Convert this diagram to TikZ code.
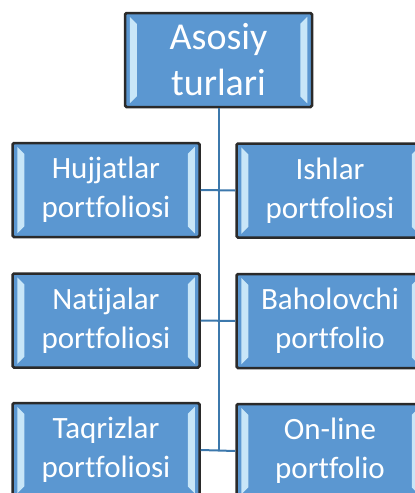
\documentclass[tikz,border=0pt]{standalone}
\usepackage{fontspec}
\setmainfont{Carlito}[Ligatures=NoCommon]
\usetikzlibrary{calc}
\definecolor{boxblue}{HTML}{5B97D1}
\definecolor{bevel}{HTML}{C8E6F8}
\definecolor{linkblue}{HTML}{3C78AC}
\definecolor{rim}{HTML}{2A2A2A}
\begin{document}
\begin{tikzpicture}[x=1pt,y=1pt,
  box/.style={draw=rim,line width=2.5pt,fill=boxblue,text=white,minimum width=187pt,
    minimum height=94pt,align=center,inner sep=0pt,rounded corners=1.5pt,
    font=\fontsize{31}{39}\selectfont},
  link/.style={draw=linkblue,line width=2pt}]
\useasboundingbox (0,0) rectangle (415,-493);
\clip (0,0) rectangle (415,-493);
\node[box,font=\fontsize{38}{46}\selectfont] (top) at (218.5,-60) {Asosiy\\turlari};
\node[box] (hu) at (106,-190)   {Hujjatlar\\portfoliosi};
\node[box] (is) at (330,-190.5) {Ishlar\\portfoliosi};
\node[box] (na) at (106,-320.5) {Natijalar\\portfoliosi};
\node[box] (ba) at (330,-321)   {Baholovchi\\portfolio};
\node[box] (ta) at (106,-450)   {Taqrizlar\\portfoliosi};
\node[box] (on) at (330,-451)   {On-line\\portfolio};
\foreach \n in {top,hu,is,na,ba,ta,on} {
  \fill[bevel] ($(\n.north west)+(6,-5)$) -- ($(\n.north west)+(13,-12)$)
    -- ($(\n.south west)+(13,12)$) -- ($(\n.south west)+(6,5)$) -- cycle;
  \fill[bevel] ($(\n.north east)+(-6,-5)$) -- ($(\n.north east)+(-13,-12)$)
    -- ($(\n.south east)+(-13,12)$) -- ($(\n.south east)+(-6,5)$) -- cycle;
}
\draw[link] (top.south) -- (top.south |- on.west);
\draw[link] (hu.east) -- (is.west);
\draw[link] (na.east) -- (ba.west);
\draw[link] (ta.east) -- (on.west);
\end{tikzpicture}
\end{document}
